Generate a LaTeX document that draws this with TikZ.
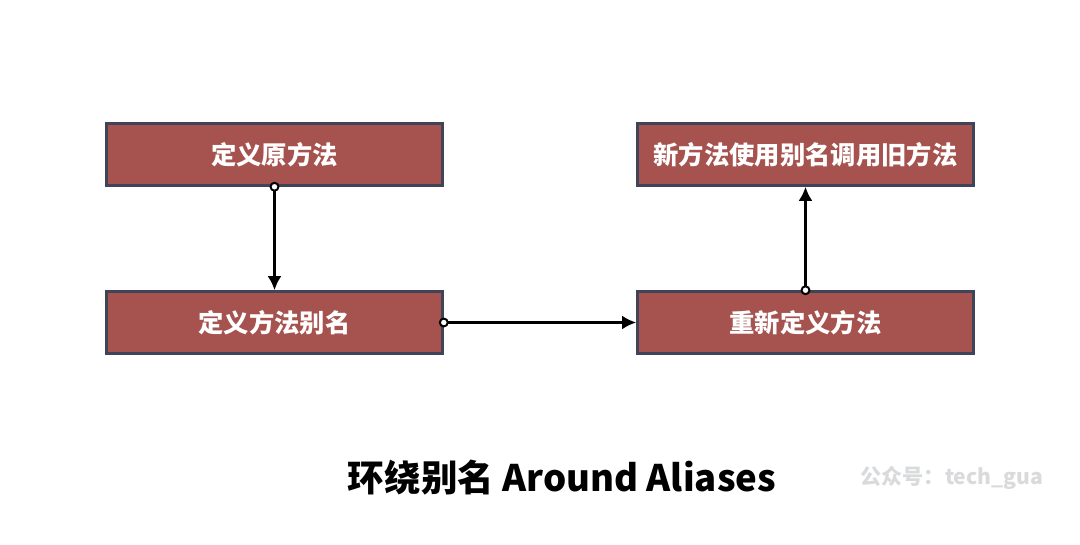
\documentclass[tikz,border=0pt]{standalone}
\usepackage{fontspec}
\setmainfont{Noto Sans CJK SC}
\newfontfamily\cjkbold{Noto Sans CJK SC Black}
\usepackage{tikz}
\usetikzlibrary{arrows.meta}
\definecolor{boxred}{HTML}{A65350}
\definecolor{boxline}{HTML}{3F4459}
\definecolor{markgray}{HTML}{D9DADC}

\begin{document}
\begin{tikzpicture}[x=0.025cm,y=-0.025cm]
        \tikzset{step box/.style = {shape=rectangle,draw=boxline,line width=1.8pt,fill=boxred,
                text=white,font=\cjkbold\fontsize{18}{20}\selectfont,
                minimum width=8.4cm,minimum height=1.55cm,inner sep=0pt}}
        \tikzset{edge/.style = {{Circle[open,fill=white,length=7pt,width=7pt,line width=1.4pt]}-{Latex[length=10pt,width=10pt]},
                line width=2pt,shorten <=-3.5pt}}
        \useasboundingbox (0,0) rectangle (1080,545);
        % boxes
        \node[step box] (orig) at (274.5,154.5) {定义原方法};
        \node[step box] (alias) at (274.5,322.5) {定义方法别名};
        \node[step box] (redef) at (805.5,322.5) {重新定义方法};
        \node[step box] (call) at (805.5,154.5) {新方法使用别名调用旧方法};
        % texts
        \node[font=\cjkbold\fontsize{26}{30}\selectfont] (title) at (562,478) {环绕别名 Around Aliases};
        \node[font=\cjkbold\fontsize{15}{18}\selectfont,text=markgray] (mark) at (952,478) {公众号：tech\_gua};
        %edges
        \draw[edge] (orig) -- (alias);
        \draw[edge] (alias) -- (redef);
        \draw[edge] (redef) -- (call);
    \end{tikzpicture}
\end{document}
